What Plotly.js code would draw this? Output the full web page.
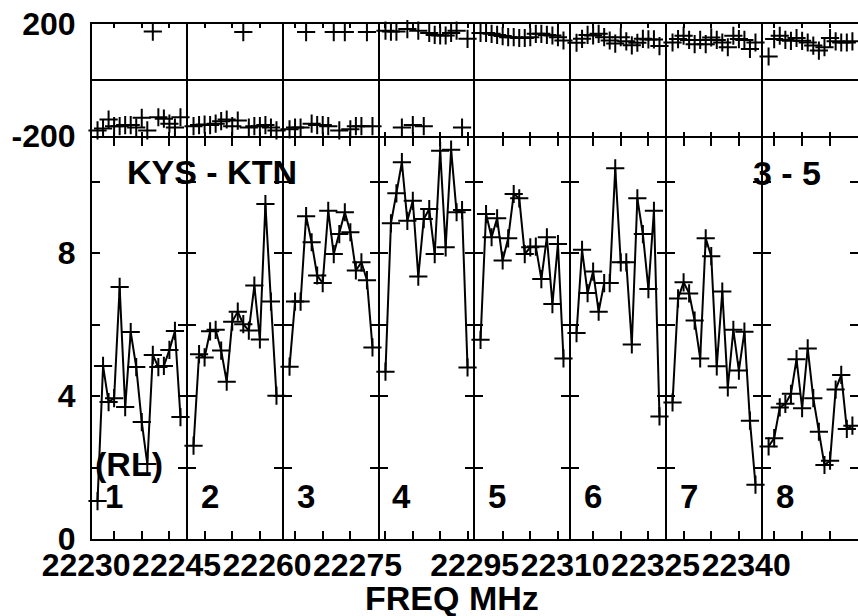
<!DOCTYPE html>
<html>
<head>
<meta charset="utf-8">
<script src="https://cdn.plot.ly/plotly-3.0.1.min.js"></script>
<style>html,body{margin:0;padding:0;background:#fff;}#plot{width:858px;height:616px;}</style>
</head>
<body>
<div id="plot"></div>
<script>
// ---- data ----
const bandStart = [22231, 22247, 22263, 22279, 22295, 22311, 22327, 22343];
const channels = [1, 2, 3, 4, 5, 6, 7, 8, 9, 10, 11, 12, 13, 14, 15, 16];
const freqLabels = ['22230', '22245', '22260', '22275', '22295', '22310', '22325', '22340'];
const bandNames = ['1', '2', '3', '4', '5', '6', '7', '8'];

const ampBand1 = [1.06, 4.84, 3.83, 3.94, 7.05, 3.69, 5.79, 4.81, 3.27, 2.10, 5.15, 4.81, 4.84, 5.29, 5.82, 3.41];
const ampBand2 = [2.61, 5.17, 5.08, 5.81, 5.85, 5.27, 4.40, 6.08, 6.36, 6.01, 5.83, 7.09, 5.58, 9.37, 6.64, 4.01];
const ampBand3 = [4.82, 6.64, 6.64, 9.03, 8.30, 7.37, 7.16, 9.18, 7.97, 8.53, 9.14, 8.58, 7.51, 7.74, 7.24, 5.36];
const ampBand4 = [4.68, 8.83, 9.67, 10.54, 8.90, 9.46, 7.34, 8.95, 9.23, 7.97, 10.86, 8.16, 10.89, 9.14, 9.20, 4.80];
const ampBand5 = [5.57, 9.09, 8.44, 8.97, 7.79, 8.41, 9.65, 9.53, 7.97, 8.16, 8.18, 7.27, 8.44, 6.57, 8.25, 5.05];
const ampBand6 = [5.76, 8.09, 6.88, 7.48, 6.36, 7.16, 7.16, 10.37, 7.74, 7.74, 5.44, 9.53, 8.53, 6.99, 9.18, 3.43];
const ampBand7 = [3.82, 6.73, 7.18, 6.87, 6.11, 5.05, 8.41, 7.91, 4.83, 6.92, 4.24, 5.85, 4.71, 5.80, 3.31, 1.52];
const ampBand8 = [2.59, 2.82, 3.68, 3.78, 4.06, 5.03, 3.66, 5.33, 3.94, 3.00, 2.07, 2.19, 4.18, 4.59, 3.08, 3.17];

const phaseBand1 = [-180, -173, -141, -165, -165, -161, -161, -170, -135, -180, 173, -133, -138, -156, -170, -133];
const phaseBand2 = [-165, -161, -159, -161, -156, -147, -141, -165, -145, 171, -170, -165, -165, -161, -170, -180];
const phaseBand3 = [-176, -170, -170, 171, -156, -161, -161, -165, 171, -180, 171, -176, -165, -165, 171, -165];
const phaseBand4 = [176, 173, 173, -170, 182, -161, 176, -165, 168, 161, 159, 159, 168, 176, -170, 147];
const phaseBand5 = [168, 168, 165, 161, 157, 153, 153, 150, 150, 153, 165, 165, 161, 159, 153, 141];
const phaseBand6 = [133, 147, 161, 159, 165, 153, 141, 130, 153, 138, 124, 133, 147, 145, 145, 121];
const phaseBand7 = [134, 146, 158, 143, 128, 143, 128, 152, 143, 134, 117, 158, 146, 143, 111, 134];
const phaseBand8 = [84, 146, 158, 143, 140, 150, 140, 134, 123, 105, 117, 150, 138, 134, 134, 138];

const ampTicks = [0, 2, 4, 6, 8, 10];
const ampTickText = ['0', '', '4', '', '8', ''];
const phaseTicks = [-200, 200];
const phaseTickText = ['-200', '200'];

const ampData = [ampBand1, ampBand2, ampBand3, ampBand4, ampBand5, ampBand6, ampBand7, ampBand8];
const phaseData = [phaseBand1, phaseBand2, phaseBand3, phaseBand4, phaseBand5, phaseBand6, phaseBand7, phaseBand8];

// ---- layout geometry (pixel frame of the reference) ----
const W = 858, H = 616;
const BOUNDS = [91, 187, 283, 379, 474, 570, 666, 762, 860];
const TOP = 24, MID_T = 136, MID_B = 138, BOT = 539;
const AMP_MAX = (BOT - MID_B) / 35.75;
const FONT = 'Liberation Sans, Arial, sans-serif';
const sfx = n => (n === 1 ? '' : String(n));

const layout = {
  width: W, height: H,
  margin: {l: 0, r: 0, t: 0, b: 0, pad: 0},
  paper_bgcolor: '#ffffff', plot_bgcolor: '#ffffff',
  showlegend: false,
  font: {family: FONT, color: '#000', size: 32, weight: 'bold'},
  annotations: []
};
const traces = [];
const ampDom = [(H - BOT) / H, (H - MID_B) / H];
const phDom = [(H - MID_T) / H, (H - TOP) / H];

const tickFont = {family: FONT, size: 32, color: '#000', weight: 'bold'};
const mk = {symbol: 'cross-thin', size: 13, color: '#000', line: {color: '#000', width: 2}};

for (let k = 1; k <= 8; k++) {
  const a = bandStart[k - 1];
  const x0 = (BOUNDS[k - 1] + 1) / W;
  const x1 = Math.min(1, (BOUNDS[k] - 1) / W);
  const tv = [];
  for (let f = Math.ceil((a + 0.01) / 5) * 5; f < a + 17; f += 5) tv.push(f);
  const tt = tv.map((f, i) => (i === 0 ? freqLabels[k - 1] : ''));
  const xs = channels.map(c => a + c);

  layout['xaxis' + sfx(k)] = {
    domain: [x0, x1], range: [a, a + 17], anchor: 'y' + sfx(k),
    tickmode: 'array', tickvals: tv, ticktext: tt,
    ticks: 'inside', ticklen: 8, tickwidth: 2, tickcolor: '#000',
    showline: true, linewidth: 2, linecolor: '#000', mirror: 'ticks',
    showgrid: false, zeroline: false, tickfont: tickFont,
    ticklabelshift: -28, ticklabelstandoff: -3
  };
  layout['xaxis' + (k + 8)] = {
    domain: [x0, x1], range: [a, a + 17], anchor: 'y' + (k + 8), matches: 'x' + sfx(k),
    tickmode: 'array', tickvals: tv,
    ticks: 'inside', ticklen: 4, tickwidth: 2, tickcolor: '#000',
    showticklabels: false,
    showline: true, linewidth: 2, linecolor: '#000', mirror: 'ticks',
    showgrid: false, zeroline: false
  };
  layout['yaxis' + sfx(k)] = {
    domain: ampDom, range: [0, AMP_MAX], anchor: 'x' + sfx(k),
    tickmode: 'array', tickvals: ampTicks, ticktext: ampTickText,
    showticklabels: k === 1,
    ticks: 'inside', ticklen: 8, tickwidth: 2, tickcolor: '#000',
    showline: true, linewidth: 2, linecolor: '#000', mirror: 'ticks',
    showgrid: false, zeroline: false, tickfont: tickFont, ticklabelstandoff: 8
  };
  layout['yaxis' + (k + 8)] = {
    domain: phDom, range: [-200, 200], anchor: 'x' + (k + 8),
    tickmode: 'array', tickvals: phaseTicks, ticktext: phaseTickText,
    showticklabels: k === 1, ticks: '',
    showline: true, linewidth: 2, linecolor: '#000', mirror: true,
    showgrid: false, zeroline: true, zerolinewidth: 2, zerolinecolor: '#000',
    tickfont: tickFont, ticklabelstandoff: 8
  };

  traces.push({
    type: 'scatter', mode: 'lines+markers',
    x: xs, y: ampData[k - 1],
    xaxis: 'x' + sfx(k), yaxis: 'y' + sfx(k),
    line: {color: '#000', width: 2}, marker: mk, cliponaxis: false,
    hoverinfo: 'skip'
  });
  traces.push({
    type: 'scatter', mode: 'markers',
    x: xs, y: phaseData[k - 1],
    xaxis: 'x' + (k + 8), yaxis: 'y' + (k + 8),
    marker: mk, cliponaxis: false, hoverinfo: 'skip'
  });

  layout.annotations.push({
    text: bandNames[k - 1], xref: 'x' + sfx(k), yref: 'y' + sfx(k),
    x: a + 3.9, y: 1.2, xanchor: 'center', yanchor: 'middle', showarrow: false,
    font: {family: FONT, size: 33, color: '#000', weight: 'bold'}
  });
}

const annFont = {family: FONT, size: 34, color: '#000', weight: 'bold'};
layout.annotations.push(
  {text: 'KYS - KTN', xref: 'paper', yref: 'paper', x: 212 / W, y: 1 - 172 / H,
   xanchor: 'center', yanchor: 'middle', showarrow: false, font: annFont},
  {text: '3 - 5', xref: 'paper', yref: 'paper', x: 786.5 / W, y: 1 - 173 / H,
   xanchor: 'center', yanchor: 'middle', showarrow: false, font: annFont},
  {text: '(RL)', xref: 'paper', yref: 'paper', x: 129 / W, y: 1 - 464 / H,
   xanchor: 'center', yanchor: 'middle', showarrow: false, font: annFont},
  {text: 'FREQ MHz', xref: 'paper', yref: 'paper', x: 452 / W, y: 1 - 598 / H,
   xanchor: 'center', yanchor: 'middle', showarrow: false, font: annFont}
);

Plotly.newPlot('plot', traces, layout, {staticPlot: true, displayModeBar: false});
</script>
</body>
</html>
